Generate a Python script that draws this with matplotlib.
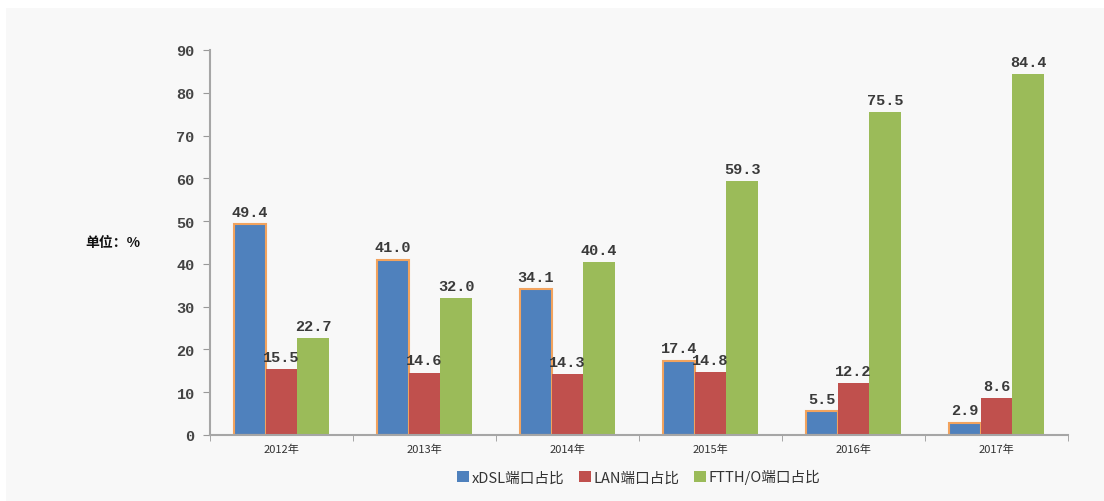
import numpy as np
import matplotlib.pyplot as plt
from matplotlib.patches import Rectangle, Patch

# data
years = ["2012年", "2013年", "2014年", "2015年", "2016年", "2017年"]
xdsl = [49.4, 41.0, 34.1, 17.4, 5.5, 2.9]
lan = [15.5, 14.6, 14.3, 14.8, 12.2, 8.6]
ftth = [22.7, 32.0, 40.4, 59.3, 75.5, 84.4]
series_names = ["xDSL端口占比", "LAN端口占比", "FTTH/O端口占比"]

plt.rcParams['font.family'] = ['Noto Sans CJK SC', 'DejaVu Sans']

fig = plt.figure(figsize=(11.04, 5.02), dpi=100)
fig.patch.set_facecolor("white")
# light grey panel behind everything
fig.patches.append(Rectangle((6 / 1104, 0), 1, 1 - 9 / 502, transform=fig.transFigure,
                             facecolor="#f8f8f8", edgecolor="none", zorder=-10))

ax = fig.add_axes([210 / 1104, 66 / 502, 858 / 1104, 385 / 502])
ax.set_facecolor("none")

x = np.arange(len(years))
w = 0.222
colors = ["#4f81bd", "#c0504d", "#9bbb59"]
num_font = dict(family="Liberation Mono", fontsize=11, fontweight="bold", color="#3a3a3a")

b1 = ax.bar(x - w, xdsl, w, color=colors[0], edgecolor="#f2a35e", linewidth=1.5)
b2 = ax.bar(x, lan, w, color=colors[1], linewidth=0)
b3 = ax.bar(x + w, ftth, w, color=colors[2], linewidth=0)

for bars, vals in [(b1, xdsl), (b2, lan), (b3, ftth)]:
    for rect, v in zip(bars, vals):
        ax.text(rect.get_x() + rect.get_width() / 2, v + 1.2, f"{v:.1f}",
                ha="center", va="bottom", **num_font)

ax.set_xlim(-0.5, len(years) - 0.5)
ax.set_ylim(0, 90)
ax.set_yticks(range(0, 91, 10))
ax.set_yticklabels([str(t) for t in range(0, 91, 10)], family="Liberation Mono",
                   fontsize=11, fontweight="bold", color="#444444")

ax.set_xticks(x)
ax.set_xticklabels(years, fontsize=8, color="#333333")
ax.tick_params(axis="x", length=0, pad=6)
ax.set_xticks(np.arange(-0.5, len(years) + 0.5, 1), minor=True)
ax.tick_params(axis="x", which="minor", length=4, color="#999999", direction="out")
ax.tick_params(axis="y", length=5, color="#999999", direction="out", pad=6)

for s in ["top", "right"]:
    ax.spines[s].set_visible(False)
for s in ["left", "bottom"]:
    ax.spines[s].set_color("#a6a6a6")
    ax.spines[s].set_linewidth(1.5)

fig.text(85 / 1104, 1 - 243 / 502, "单位：%", fontsize=10, fontweight="bold",
         color="#111111", va="center", ha="left")

handles = [Patch(facecolor=c, edgecolor="none") for c in colors]
ax.legend(handles, series_names, loc="upper center", bbox_to_anchor=(0.5, -0.055), ncol=3,
          frameon=False, fontsize=10.5, handlelength=0.8, handleheight=0.8,
          handletextpad=0.2, columnspacing=1.0, labelcolor="#333333")

fig.savefig("out.png", dpi=100, facecolor=fig.get_facecolor())
